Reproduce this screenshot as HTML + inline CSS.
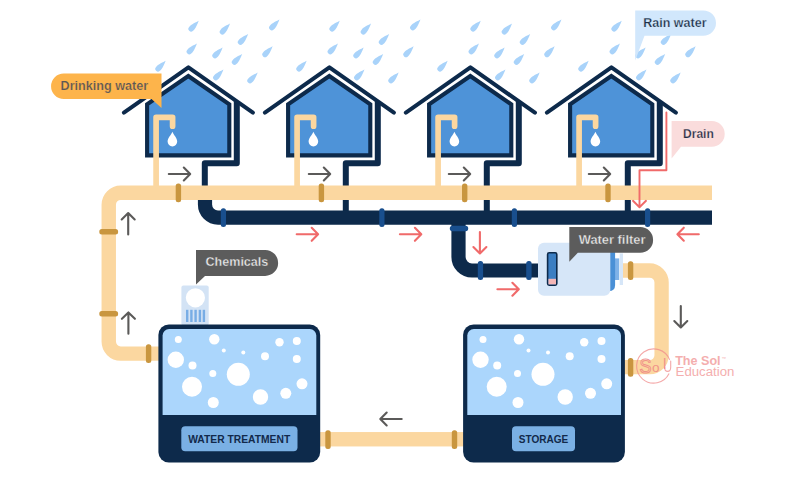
<!DOCTYPE html>
<html lang="en">
<head>
<meta charset="utf-8">
<title>Water cycle in a city</title>
<style>
  html, body { margin: 0; padding: 0; background: #ffffff; }
  body { width: 800px; height: 500px; overflow: hidden; }
  svg { display: block; }
  text { font-family: "Liberation Sans", sans-serif; }
  .b { font-weight: bold; }
</style>
</head>
<body>
<svg width="800" height="500" viewBox="0 0 800 500">
  <defs>
    <!-- rain drop, centred on its bounding box -->
    <path id="rd" d="M5.2,-5.5 C3,-4 -2.6,-2.2 -4.41,0.79 A2.7,2.7 0 0 0 -0.59,4.61 C2.2,2.8 4,-3 5.2,-5.5 Z"/>
    <!-- rain block for one house (absolute coords for house 1) -->
    <g id="rain" fill="#A9D3FA">
      <use href="#rd" x="193.6" y="26.2"/>
      <use href="#rd" x="224.9" y="29.1"/>
      <use href="#rd" x="274.3" y="25"/>
      <use href="#rd" x="243" y="39.5"/>
      <use href="#rd" x="191.8" y="48.9"/>
      <use href="#rd" x="217.5" y="53"/>
      <use href="#rd" x="267.5" y="51.8"/>
      <use href="#rd" x="237" y="59.5"/>
      <use href="#rd" x="160.5" y="66.2"/>
      <use href="#rd" x="218.3" y="75"/>
      <use href="#rd" x="252.5" y="78"/>
    </g>
    <!-- house (absolute coords for house 1; peak x = 188.4) -->
    <g id="house">
      <!-- drain pipe from roof -->
      <path d="M236.8,101 V163.2 H204.8 V212" fill="none" stroke="#0D2A4B" stroke-width="6" stroke-linejoin="round"/>
      <!-- body -->
      <path d="M188.3,76 L229.3,104.4 V155.4 H147.1 V104.4 Z" fill="#4E93D8" stroke="#0D2A4B" stroke-width="4.1" stroke-linejoin="miter"/>
      <!-- roof -->
      <path d="M123.9,112.6 L188.4,67.4 L252.9,112.6" fill="none" stroke="#0D2A4B" stroke-width="4.1" stroke-linecap="round" stroke-linejoin="round"/>
      <!-- tap -->
      <path d="M156.1,190 V117.3 H172.6 V126.2" fill="none" stroke="#FBD7A0" stroke-width="5.7" stroke-linejoin="round" stroke-linecap="round"/>
      <!-- drop -->
      <path d="M172.4,131.8 C171,135.2 167.6,138 167.6,141.6 A4.8,4.8 0 0 0 177.2,141.6 C177.2,138 173.8,135.2 172.4,131.8 Z" fill="#ffffff"/>
    </g>
    <path id="ar" d="M-21.4,0 H-0.6 M-6.4,-6.5 L0,0 L-6.4,6.5"/>
    <!-- tank (absolute coords for tank 1) -->
    <g id="tank">
      <rect x="158.4" y="324.5" width="161.8" height="138" rx="10.5" fill="#0D2A4B"/>
      <path d="M162.6,415 V335.5 A6.5,6.5 0 0 1 169.1,329 H309.8 A6.5,6.5 0 0 1 316.3,335.5 V415 Z" fill="#ABD6FC"/>
      <g fill="#ffffff">
        <circle cx="178.3" cy="339.5" r="3.5"/>
        <circle cx="214.3" cy="339.3" r="5.2"/>
        <circle cx="279.5" cy="342.2" r="4.2"/>
        <circle cx="296.8" cy="341" r="4"/>
        <circle cx="223.8" cy="350.5" r="2"/>
        <circle cx="243.3" cy="352.5" r="2"/>
        <circle cx="175.8" cy="359.8" r="8.2"/>
        <circle cx="265" cy="356.3" r="4"/>
        <circle cx="296.8" cy="358.9" r="4"/>
        <circle cx="192.5" cy="365.5" r="4"/>
        <circle cx="212.8" cy="373.6" r="3.5"/>
        <circle cx="238.3" cy="374.3" r="11.5"/>
        <circle cx="192" cy="386.8" r="10"/>
        <circle cx="302" cy="383.8" r="5.5"/>
        <circle cx="260.5" cy="397" r="7.7"/>
        <circle cx="285.8" cy="393.3" r="5.5"/>
        <circle cx="213.3" cy="402.5" r="5.5"/>
      </g>
    </g>
  </defs>

  <rect width="800" height="500" fill="#ffffff"/>

  <!-- RAIN -->
  <use href="#rain"/>
  <use href="#rain" x="141"/>
  <use href="#rain" x="282"/>
  <use href="#rain" x="423"/>

  <!-- HOUSES (drawn before the pipes so pipes cover the drains) -->
  <use href="#house"/>
  <use href="#house" x="141"/>
  <use href="#house" x="282"/>
  <use href="#house" x="423"/>


  <!-- MAIN CREAM PIPE -->
  <path d="M712,192.75 H120.75 A12,12 0 0 0 108.75,204.75 V341.6 A12,12 0 0 0 120.75,353.6 H160" fill="none" stroke="#FBD7A0" stroke-width="14.4"/>
  <!-- gold connectors on cream pipe -->
  <g fill="#C9963F">
    <rect x="175.7" y="183.4" width="5.4" height="18.8" rx="2.5"/>
    <rect x="318.7" y="183.4" width="5.4" height="18.8" rx="2.5"/>
    <rect x="462.0" y="183.4" width="5.4" height="18.8" rx="2.5"/>
    <rect x="605.3" y="183.4" width="5.4" height="18.8" rx="2.5"/>
    <rect x="99.3" y="229.1" width="18.8" height="5.4" rx="2.5"/>
    <rect x="99.3" y="311.0" width="18.8" height="5.4" rx="2.5"/>
    <rect x="145.9" y="344.2" width="5.4" height="18.8" rx="2.5"/>
  </g>

  <!-- MAIN NAVY PIPE -->
  <path d="M712,217.6 H218 A13,13 0 0 1 205,204.6 V200" fill="none" stroke="#0D2A4B" stroke-width="14.2"/>
  <!-- branch to filter -->
  <path d="M458.5,222 V257 A13.5,13.5 0 0 0 472,270.5 H540" fill="none" stroke="#0D2A4B" stroke-width="14.2"/>
  <g fill="#194F8E">
    <rect x="220.8" y="208.2" width="5.2" height="18.8" rx="2.5"/>
    <rect x="379.3" y="208.2" width="5.2" height="18.8" rx="2.5"/>
    <rect x="511.8" y="208.2" width="5.2" height="18.8" rx="2.5"/>
    <rect x="645" y="208.2" width="5.2" height="18.8" rx="2.5"/>
    <rect x="449.8" y="225.8" width="18.4" height="5.4" rx="2.6"/>
    <rect x="477.8" y="261.1" width="5.3" height="18.8" rx="2.5"/>
    <rect x="526.2" y="261.1" width="5.4" height="18.8" rx="2.5"/>
  </g>

  <!-- WATER FILTER -->
  <g>
    <rect x="619.7" y="253.4" width="3.3" height="31.6" fill="#D6E6F8"/>
    <rect x="615" y="258.4" width="4.2" height="21.6" fill="#7FB2E8"/>
    <path d="M609,250 H615.1 V285 Q615.1,291 609,291 Z" fill="#4A90D6"/>
    <rect x="538" y="242.8" width="72.3" height="53" rx="6" fill="#D6E6F8"/>
    <rect x="547.6" y="252.8" width="9.2" height="32.4" rx="1.6" fill="#3B7EC2" stroke="#0D2A4B" stroke-width="1.6"/>
    <rect x="548.4" y="278.8" width="7.6" height="5.6" fill="#F4B6B6"/>
  </g>

  <!-- RIGHT CREAM PIPE (filter -> storage) -->
  <path d="M623,270.5 H649.6 A12,12 0 0 1 661.6,282.5 V355.2 A12,12 0 0 1 649.6,367.2 H624" fill="none" stroke="#FBD7A0" stroke-width="14.3"/>
  <g fill="#C9963F">
    <rect x="627.9" y="261.3" width="5.4" height="18.8" rx="2.5"/>
    <rect x="627.9" y="357.9" width="5.4" height="18.8" rx="2.5"/>
  </g>

  <!-- BOTTOM CREAM PIPE (storage -> treatment) -->
  <rect x="318" y="432.05" width="147" height="14.4" fill="#FBD7A0"/>
  <g fill="#C9963F">
    <rect x="325.3" y="430.2" width="5.4" height="18.8" rx="2.5"/>
    <rect x="451.8" y="430.2" width="5.4" height="18.8" rx="2.5"/>
  </g>

  <!-- CHEMICAL DISPENSER -->
  <g>
    <rect x="181.4" y="285.6" width="27.3" height="40" rx="2" fill="#D3E3F5"/>
    <circle cx="195.4" cy="297.8" r="9.6" fill="#ffffff"/>
    <g fill="#78ADE5">
      <rect x="186" y="309.8" width="2.4" height="12.2"/>
      <rect x="190.2" y="309.8" width="2.4" height="12.2"/>
      <rect x="194.4" y="309.8" width="2.4" height="12.2"/>
      <rect x="198.7" y="309.8" width="2.4" height="12.2"/>
      <rect x="202.7" y="309.8" width="2.4" height="12.2"/>
    </g>
  </g>

  <!-- TANKS -->
  <use href="#tank"/>
  <use href="#tank" x="304.7"/>
  <rect x="181.3" y="426.3" width="116.2" height="25" rx="4" fill="#7AB0E4"/>
  <text class="b" x="239.2" y="442.5" font-size="10" text-anchor="middle" fill="#12294A" textLength="102" lengthAdjust="spacingAndGlyphs">WATER TREATMENT</text>
  <rect x="512" y="426.3" width="63" height="25" rx="4" fill="#7AB0E4"/>
  <text class="b" x="543.5" y="442.5" font-size="10" text-anchor="middle" fill="#12294A" textLength="49.5" lengthAdjust="spacingAndGlyphs">STORAGE</text>

  <!-- LABELS -->
  <!-- Drinking water -->
  <path d="M63.8,73.6 H161.5 V108 L151.5,99.1 H63.8 A12.75,12.75 0 0 1 63.8,73.6 Z" fill="#FDB44B"/>
  <text class="b" x="60.6" y="90" font-size="12" fill="#575757" textLength="87.5" lengthAdjust="spacingAndGlyphs" stroke="#FDB44B" stroke-width="0.22">Drinking water</text>
  <!-- Rain water -->
  <path d="M635.2,10.4 H703.3 A12.7,12.7 0 0 1 703.3,35.8 H644.5 L635.2,60.5 Z" fill="#D1E7FC"/>
  <text class="b" x="643.3" y="26.8" font-size="12" fill="#1F2F46" textLength="63.2" lengthAdjust="spacingAndGlyphs" stroke="#D1E7FC" stroke-width="0.25">Rain water</text>
  <!-- Drain -->
  <path d="M671.6,121 H711.8 A12.9,12.9 0 0 1 711.8,146.8 H681 L671.6,158.6 Z" fill="#FADCDC"/>
  <text class="b" x="683" y="137.5" font-size="12" fill="#1F2F46" textLength="30.8" lengthAdjust="spacingAndGlyphs" stroke="#FADCDC" stroke-width="0.25">Drain</text>
  <!-- Chemicals -->
  <path d="M196,250 H265.2 A12.95,12.95 0 0 1 265.2,275.9 H205 L196,284.6 Z" fill="#5C5C5C"/>
  <text class="b" x="205.5" y="266.3" font-size="12" fill="#EDEDED" textLength="62.8" lengthAdjust="spacingAndGlyphs" stroke="#5C5C5C" stroke-width="0.32">Chemicals</text>
  <!-- Water filter -->
  <path d="M569.3,227 H640.2 A12.9,12.9 0 0 1 640.2,252.8 H577.8 L569.3,261.8 Z" fill="#5C5C5C"/>
  <text class="b" x="578.8" y="243.8" font-size="12" fill="#EDEDED" textLength="66.6" lengthAdjust="spacingAndGlyphs" stroke="#5C5C5C" stroke-width="0.32">Water filter</text>

  <!-- ARROWS -->
  <g fill="none" stroke="#5B5A59" stroke-width="2.1" stroke-linecap="round" stroke-linejoin="round">
    <use href="#ar" transform="translate(190.2,174) rotate(0)"/>
    <use href="#ar" transform="translate(330.2,174) rotate(0)"/>
    <use href="#ar" transform="translate(470.2,174) rotate(0)"/>
    <use href="#ar" transform="translate(610.2,174) rotate(0)"/>
    <use href="#ar" transform="translate(128.2,213) rotate(-90)"/>
    <use href="#ar" transform="translate(128.4,312.4) rotate(-90)"/>
    <use href="#ar" transform="translate(680.8,327.5) rotate(90)"/>
    <use href="#ar" transform="translate(380.3,419) rotate(180)"/>
  </g>
  <g fill="none" stroke="#F06A6A" stroke-width="2.1" stroke-linecap="round" stroke-linejoin="round">
    <use href="#ar" transform="translate(318.1,234.3) rotate(0)"/>
    <use href="#ar" transform="translate(421.3,234.3) rotate(0)"/>
    <use href="#ar" transform="translate(479.9,253.4) rotate(90)"/>
    <use href="#ar" transform="translate(518.8,289.25) rotate(0)"/>
    <use href="#ar" transform="translate(677.4,234.2) rotate(180)"/>
    <path d="M666.4,112.4 V170.2 H639.5 V207 M633,200.8 L639.5,207.2 L646,200.8" stroke-width="1.9"/>
  </g>

  <!-- LOGO -->
  <g>
    <path d="M669.66,359.87 A17.1,17.1 0 1 0 669.07,373.50" fill="none" stroke="#F08C8C" stroke-opacity="0.75" stroke-width="1.1"/>
    <path d="M664.6,367 Q664.6,371.4 667.6,371.4 Q670.7,371.4 670.7,367 V361" fill="none" stroke="#F08C8C" stroke-opacity="0.75" stroke-width="1.1" stroke-linecap="round"/>
    <text fill="none" stroke="#EE8585" stroke-opacity="0.85" stroke-width="1"><tspan x="639.6" y="372.6" font-size="20" textLength="12" lengthAdjust="spacingAndGlyphs">S</tspan><tspan x="652" y="371.7" font-size="13.5" fill="#EE8585" fill-opacity="0.85" stroke="none">o</tspan><tspan x="662.9" y="368.6" font-size="15" fill="#EE8585" fill-opacity="0.85" stroke="none">l</tspan></text>
    <text class="b" x="675.2" y="364.6" font-size="12" fill="#F4AEAE" textLength="45.4" lengthAdjust="spacingAndGlyphs">The Sol</text>
    <text x="721.4" y="359.6" font-size="4.5" fill="#F4AEAE">™</text>
    <text x="675.6" y="376.4" font-size="12" fill="#F4AEAE" textLength="58.8" lengthAdjust="spacingAndGlyphs">Education</text>
  </g>
</svg>
</body>
</html>
